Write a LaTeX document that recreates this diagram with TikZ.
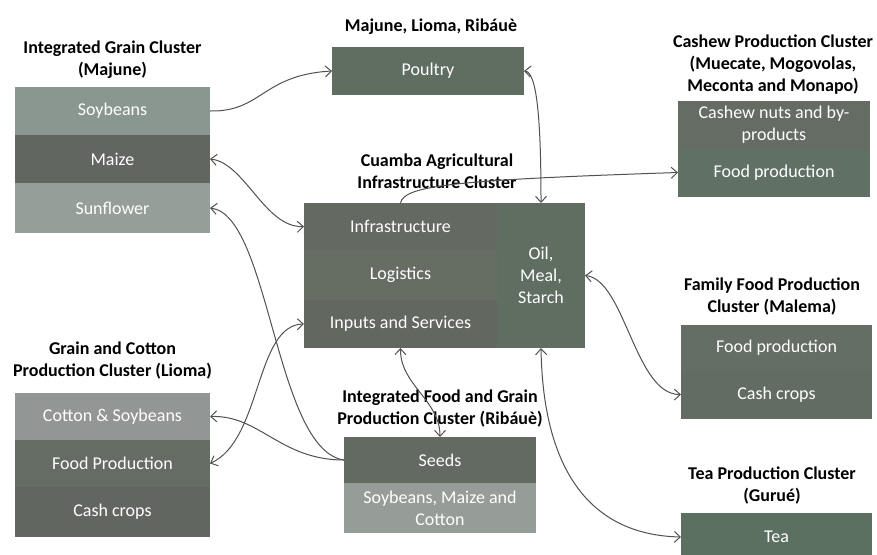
\documentclass[tikz,border=0pt]{standalone}
\usepackage{fontspec}
\setmainfont{Carlito}
\usetikzlibrary{arrows.meta}
\definecolor{soyc}{RGB}{138,150,144}
\definecolor{maizec}{RGB}{98,102,96}
\definecolor{sunfc}{RGB}{150,158,154}
\definecolor{poulc}{RGB}{96,110,98}
\definecolor{cnutc}{RGB}{100,108,100}
\definecolor{cfoodc}{RGB}{96,112,100}
\definecolor{infrac}{RGB}{100,106,98}
\definecolor{logc}{RGB}{102,110,100}
\definecolor{inpc}{RGB}{98,104,96}
\definecolor{oilc}{RGB}{96,110,98}
\definecolor{cotc}{RGB}{146,150,148}
\definecolor{lfoodc}{RGB}{100,108,100}
\definecolor{lcashc}{RGB}{98,102,96}
\definecolor{seedc}{RGB}{98,106,98}
\definecolor{smcc}{RGB}{150,156,152}
\definecolor{mfoodc}{RGB}{100,110,100}
\definecolor{mcashc}{RGB}{98,108,98}
\definecolor{teac}{RGB}{92,112,98}
\definecolor{connc}{RGB}{80,82,80}
\begin{document}
\begin{tikzpicture}[x=1pt,y=-1pt,
  cell/.style n args={3}{fill=#1, minimum width=#2pt, minimum height=#3pt,
    text=white, inner sep=0pt, outer sep=0pt, align=center,
    font=\fontsize{18}{22}\selectfont},
  ctitle/.style={anchor=south, inner sep=0pt, align=center,
    font=\bfseries\fontsize{18}{22}\selectfont, text=black},
  link/.style={draw=connc, line width=1pt},
  >={Straight Barb[length=6pt,width=11pt]}
]
\useasboundingbox (0,0) rectangle (877,554);
\clip (0,0) rectangle (877,554);
\fill[white] (0,0) rectangle (877,554);

% Integrated Grain Cluster (Majune)
\node[cell={soyc}{195}{48}] (soy) at (112.5,111) {Soybeans};
\node[cell={maizec}{195}{48}] (maize) at (112.5,159) {Maize};
\node[cell={sunfc}{195}{50}] (sunf) at (112.5,208) {Sunflower};
\node[ctitle] (tmaj) at (112.5,82.6) {Integrated Grain Cluster\\(Majune)\strut};

% Poultry
\node[cell={poulc}{192}{48}] (poultry) at (428,71) {Poultry};
\node[ctitle] (tpoul) at (431,38.6) {Majune, Lioma, Ribáuè\strut};

% Cashew
\node[cell={cnutc}{192}{49}] (cashnuts) at (774,125) {Cashew nuts and by-\\products};
\node[cell={cfoodc}{192}{49}] (cashfood) at (774,172.5) {Food production};
\node[ctitle] (tcash) at (773,98.6) {Cashew Production Cluster\\(Muecate, Mogovolas,\\Meconta and Monapo)\strut};

% Cuamba
\node[cell={infrac}{193}{47}] (infra) at (400.5,226.5) {Infrastructure};
\node[cell={logc}{193}{50}] (logist) at (400.5,275) {Logistics};
\node[cell={inpc}{193}{48}] (inputs) at (400.5,324) {Inputs and Services};
\node[cell={oilc}{88}{145}] (oil) at (541,275.5) {Oil,\\Meal,\\Starch};
\node[ctitle] (tcuam) at (437,195.6) {Cuamba Agricultural\\Infrastructure Cluster\strut};

% Lioma
\node[cell={cotc}{195}{47}] (cotton) at (112.5,416.5) {Cotton \& Soybeans};
\node[cell={lfoodc}{195}{47}] (lfood) at (112.5,463.5) {Food Production};
\node[cell={lcashc}{195}{50}] (lcash) at (112.5,512) {Cash crops};
\node[ctitle] (tlio) at (112.5,383.6) {Grain and Cotton\\Production Cluster (Lioma)\strut};

% Ribaue
\node[cell={seedc}{192}{46}] (seeds) at (440,460) {Seeds};
\node[cell={smcc}{192}{50}] (smc) at (440,508) {Soybeans, Maize and\\Cotton};
\node[ctitle] (trib) at (440,431.6) {Integrated Food and Grain\\Production Cluster (Ribáuè)\strut};

% Malema
\node[cell={mfoodc}{191}{45}] (mfood) at (776.5,347.5) {Food production};
\node[cell={mcashc}{191}{49}] (mcash) at (776.5,394.5) {Cash crops};
\node[ctitle] (tmal) at (772,319.6) {Family Food Production\\Cluster (Malema)\strut};

% Tea
\node[cell={teac}{191}{48}] (tea) at (776.5,537) {Tea};
\node[ctitle] (ttea) at (772,508) {Tea Production Cluster\\(Gurué)\strut};

% connectors
\draw[link,->] (soy.east) .. controls (262,112) and (262,75) .. (poultry.west);
\draw[link,<->] (maize.east) .. controls (245,163) and (265,228) .. (infra.west);
\draw[link,<-] (sunf.east) .. controls (270,215) and (275,450) .. (seeds.west);
\draw[link,<-] (cotton.east) .. controls (260,415) and (280,460) .. (seeds.west);
\draw[link,<->] (lfood.east) .. controls (262,440) and (255,325) .. (inputs.west);
\draw[link,<->] (inputs.south) .. controls (400,385) and (440,400) .. (seeds.north);
\draw[link,->] (infra.north) .. controls (404,186) and (450,180) .. (cashfood.west);
\draw[link,<->] (poultry.east) .. controls (538,72) and (541,130) .. (oil.north);
\draw[link,<->] (oil.east) .. controls (625,280) and (635,395) .. (mcash.west);
\draw[link,<->] (oil.south) .. controls (543,470) and (590,535) .. (tea.west);
\end{tikzpicture}
\end{document}
